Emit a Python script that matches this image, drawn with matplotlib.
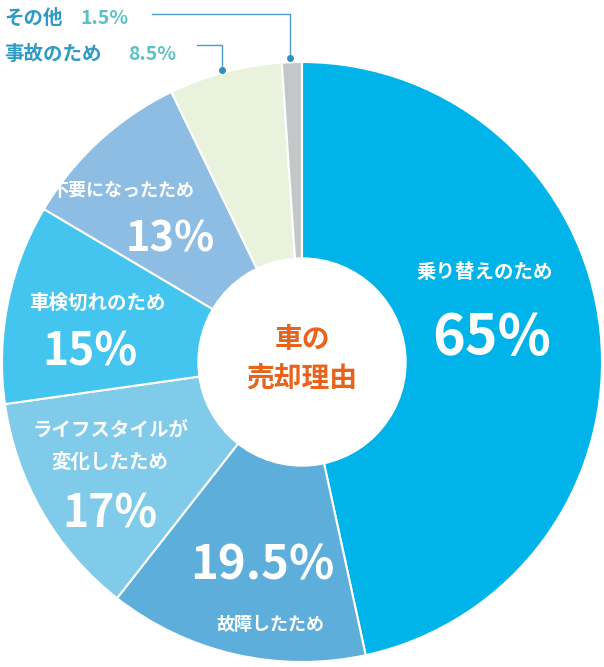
import matplotlib
matplotlib.use("Agg")
import matplotlib.pyplot as plt

labels = ["乗り替えのため", "故障したため", "ライフスタイルが変化したため", "車検切れのため", "不要になったため", "事故のため", "その他"]
values = [65, 19.5, 17, 15, 13, 8.5, 1.5]
colors = ["#00b4ea", "#5eaedb", "#80cbea", "#43c5ef", "#8ebde4", "#e9f2dd", "#c3c7c8"]

plt.rcParams['font.family'] = ['Noto Sans CJK JP', 'DejaVu Sans']
fig = plt.figure(figsize=(6.04, 6.67), dpi=100)
ax = fig.add_axes([0, 0, 1, 1])
ax.set_xlim(-302, 302)
ax.set_ylim(-305, 362)
ax.axis("off")
ax.pie(values, colors=colors, startangle=90, counterclock=False, radius=300,
       wedgeprops=dict(edgecolor="white", linewidth=1.5), center=(0, 0), frame=True)
ax.set_xlim(-302, 302); ax.set_ylim(-305, 362); ax.axis("off"); ax.set_aspect("equal")
ax.add_patch(plt.Circle((0, 0), 104, color="white", zorder=5))

def P(px, py):
    return px - 302, 362 - py

def T(px, py, s, size, color="white", ha="center"):
    x, y = P(px, py)
    ax.text(x, y, s, fontsize=size, color=color, ha=ha, va="center", fontweight="bold", zorder=6)

T(485, 272, labels[0], 14); T(492, 338, f"{values[0]:g}%", 40)
T(262, 565, f"{values[1]:g}%", 34); T(270, 624, labels[1], 13)
T(110, 430, "ライフスタイルが", 14); T(110, 462, "変化したため", 14); T(110, 515, f"{values[2]:g}%", 32)
T(97, 303, labels[3], 14); T(90, 352, f"{values[3]:g}%", 32)
T(122, 190, labels[4], 13); T(170, 240, f"{values[4]:g}%", 30)
T(302, 340, "車の", 20, "#e8641c"); T(302, 380, "売却理由", 20, "#e8641c")

lab = "#2f9bc4"; pct = "#5cc0c6"
T(4, 18, labels[6], 14, lab, "left"); T(80, 18, f"{values[6]:g}%", 14, pct, "left")
T(4, 55, labels[5], 14, lab, "left"); T(128, 55, f"{values[5]:g}%", 14, pct, "left")
for pts, end in [([(152, 14), (290, 14), (290, 58)], (290, 58)), ([(197, 45), (222, 45), (222, 70)], (222, 70))]:
    xs, ys = zip(*[P(*p) for p in pts])
    ax.plot(xs, ys, color="#4a9cc4", lw=1, zorder=6)
    ax.plot(*P(*end), "o", color="#2f8fbf", ms=4, zorder=7)

fig.savefig("out.png", dpi=100)
